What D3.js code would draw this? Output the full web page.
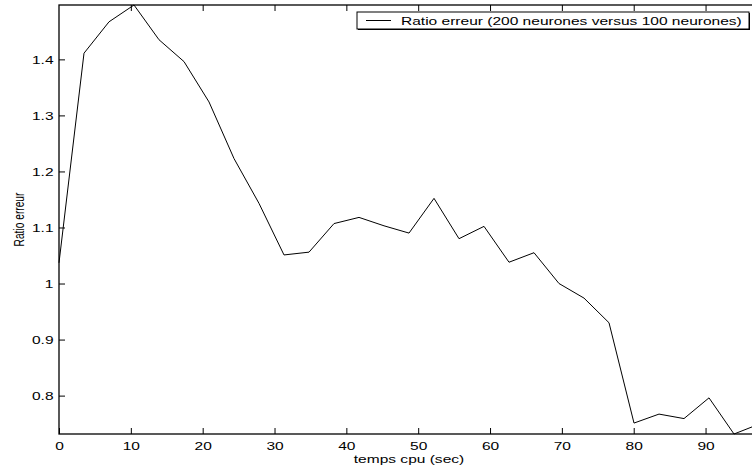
<!DOCTYPE html>
<html>
<head>
<meta charset="utf-8">
<script src="https://cdn.jsdelivr.net/npm/d3@7"></script>
<style>
  body { margin: 0; background: #fff; }
  svg { display: block; }
  text { font-family: "Liberation Sans", Arial, Helvetica, sans-serif; fill: #000; }
</style>
</head>
<body>
<div id="chart"></div>
<script>
// temps cpu (sec) and error ratio
const tempsCpu = [0, 3.48, 6.96, 10.44, 13.92, 17.4, 20.88, 24.36, 27.84, 31.32,
                  34.8, 38.28, 41.76, 45.24, 48.72, 52.2, 55.68, 59.16, 62.64, 66.12,
                  69.6, 73.08, 76.56, 80.04, 83.52, 87.0, 90.48, 93.96, 97.44];
const ratioErreur = [1.037, 1.411, 1.467, 1.497, 1.435, 1.396, 1.324, 1.223, 1.143, 1.051,
                     1.056, 1.107, 1.118, 1.103, 1.090, 1.152, 1.080, 1.102, 1.038, 1.055,
                     1.000, 0.974, 0.930, 0.751, 0.767, 0.759, 0.796, 0.7315, 0.749];
const xTicks = [0, 10, 20, 30, 40, 50, 60, 70, 80, 90];
const yTicks = [0.8, 0.9, 1.0, 1.1, 1.2, 1.3, 1.4];
const legendLabel = "Ratio erreur (200 neurones versus 100 neurones)";
const xLabel = "temps cpu (sec)";
const yLabel = "Ratio erreur";

const W = 752, H = 475;
const margin = { left: 59, top: 5 };
const plotW = 700, plotH = 429;   // right edge falls outside the picture (cropped)
const fs = 11.5, sx = 1.35;       // glyphs are stretched horizontally in the original

const svg = d3.select('#chart').append('svg')
  .attr('width', W).attr('height', H);

const g = svg.append('g')
  .attr('transform', `translate(${margin.left},${margin.top})`);

const x = d3.scaleLinear().domain([0, d3.max(tempsCpu)]).range([0, plotW]);
const y = d3.scaleLinear().domain(d3.extent(ratioErreur)).range([plotH, 0]);

// bottom axis
const xAxis = g.append('g')
  .attr('transform', `translate(0,${plotH})`)
  .call(d3.axisBottom(x).tickValues(xTicks).tickSize(-6).tickSizeOuter(0)
    .tickFormat(d3.format('d')));
xAxis.selectAll('text')
  .attr('y', 16).attr('dy', 0)
  .attr('font-size', fs)
  .attr('transform', `scale(${sx},1)`);

// top ticks
g.append('g')
  .call(d3.axisTop(x).tickValues(xTicks.slice(1)).tickSize(-6).tickSizeOuter(0)
    .tickFormat(''));

// left axis
const yAxis = g.append('g')
  .call(d3.axisLeft(y).tickValues(yTicks).tickSize(-6).tickSizeOuter(0)
    .tickFormat(d => d === 1 ? '1' : d3.format('.1f')(d)));
yAxis.selectAll('text')
  .attr('x', -5.5 / sx)
  .attr('font-size', fs)
  .attr('transform', `scale(${sx},1)`);

g.selectAll('.domain').remove();
g.selectAll('.tick line').attr('stroke', '#000');

// frame
g.append('rect')
  .attr('x', 0).attr('y', 0).attr('width', plotW).attr('height', plotH)
  .attr('fill', 'none').attr('stroke', '#000').attr('stroke-width', 1.3);

// series
const line = d3.line()
  .x((d, i) => x(tempsCpu[i]))
  .y(d => y(d));

g.append('path')
  .datum(ratioErreur)
  .attr('d', line)
  .attr('fill', 'none')
  .attr('stroke', '#000')
  .attr('stroke-width', 1);

// axis labels
svg.append('text')
  .attr('transform', `translate(${margin.left + plotW / 2},463) scale(${sx},1)`)
  .attr('text-anchor', 'middle')
  .attr('font-size', fs)
  .text(xLabel);

svg.append('text')
  .attr('transform', `translate(24,${margin.top + plotH / 2}) rotate(-90) scale(1,${sx})`)
  .attr('text-anchor', 'middle')
  .attr('font-size', 10.2)
  .text(yLabel);

// legend
const lg = g.append('g').attr('transform', `translate(${plotW - 402},7)`);
lg.append('rect')
  .attr('x', 1).attr('y', 1).attr('width', 392).attr('height', 17)
  .attr('fill', '#000');
lg.append('rect')
  .attr('x', 0).attr('y', 0).attr('width', 392).attr('height', 17)
  .attr('fill', '#fff').attr('stroke', '#000').attr('stroke-width', 1);
lg.append('line')
  .attr('x1', 9).attr('x2', 34).attr('y1', 8.5).attr('y2', 8.5)
  .attr('stroke', '#000').attr('stroke-width', 1);
lg.append('text')
  .attr('transform', `translate(44,12.8) scale(${sx},1)`)
  .attr('font-size', fs)
  .text(legendLabel);
</script>
</body>
</html>
